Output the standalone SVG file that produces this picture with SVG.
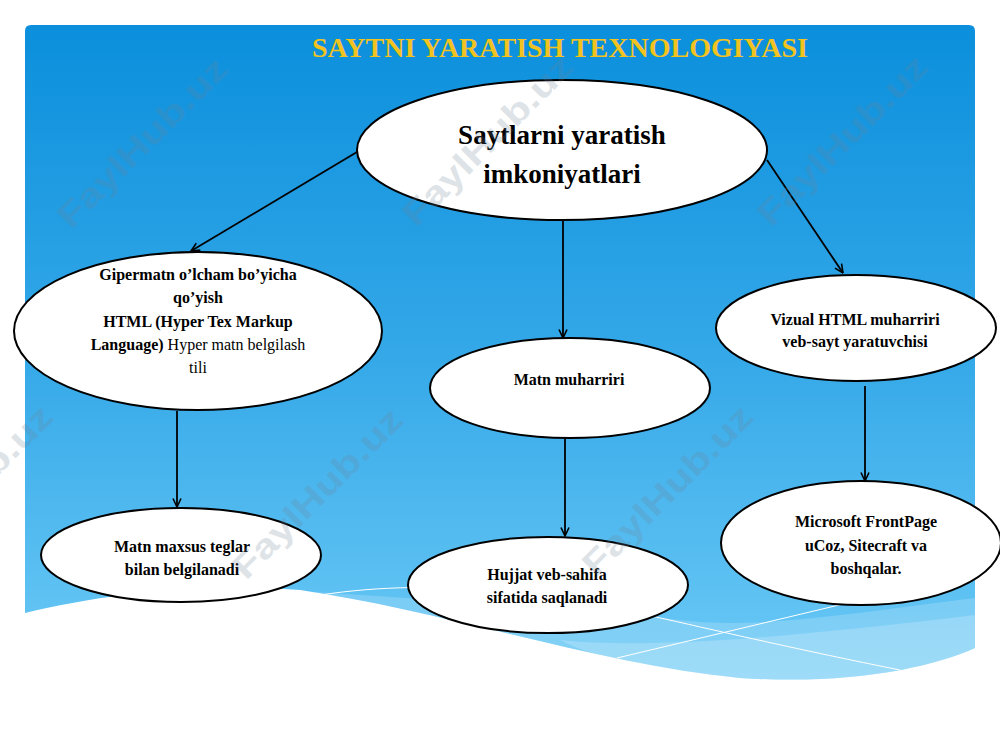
<svg xmlns="http://www.w3.org/2000/svg" width="1000" height="750" viewBox="0 0 1000 750">
<defs>
<linearGradient id="bg" x1="0" y1="25" x2="0" y2="680" gradientUnits="userSpaceOnUse">
<stop offset="0" stop-color="#0b8fdc"/>
<stop offset="0.5" stop-color="#34a8e8"/>
<stop offset="1" stop-color="#6ccaf6"/>
</linearGradient>
<marker id="arr" viewBox="0 0 10 10" refX="9.5" refY="5" markerWidth="10" markerHeight="10" markerUnits="userSpaceOnUse" orient="auto">
<path d="M1,1 L9.5,5 L1,9" fill="none" stroke="#000" stroke-width="1.6"/>
</marker>
</defs>
<style>
.node ellipse{fill:#fff;stroke:#000;stroke-width:2}
.t{font-family:"Liberation Serif","Times New Roman",serif;font-weight:bold;font-size:16px;fill:#000;text-anchor:middle}
.n{font-weight:normal}
.big{font-size:27px}
.title{font-family:"Liberation Serif","Times New Roman",serif;font-weight:bold;font-size:28px;fill:#f2c31f;text-anchor:middle}
.wm{font-family:"Liberation Sans",Arial,sans-serif;font-weight:bold;font-size:34px;fill:#6f8295;opacity:0.22;text-anchor:middle}
#connectors line{stroke:#000;stroke-width:1.8;fill:none}
</style>
<rect width="1000" height="750" fill="#fff"/>
<g id="background">
<path d="M25,31 Q25,25 31,25 L969,25 Q975,25 975,31 L975,648 C930,668 850,685 740,678 C600,665 450,612 300,590 C200,582 100,595 25,613 Z" fill="url(#bg)"/>
<path d="M285,590 C400,598 560,606 680,620 C760,630 860,612 975,598 L975,648 C930,668 850,685 740,678 C600,665 450,612 300,590 Z" fill="#fff" opacity="0.18"/>
<path d="M560,640 C650,650 800,636 975,615 L975,648 C930,668 850,685 740,678 C660,672 600,660 560,640 Z" fill="#fff" opacity="0.2"/>
<path d="M320,595 C380,586 440,585 520,592 C600,600 700,630 900,670" fill="none" stroke="#fff" stroke-width="1"/>
<path d="M617,658 L860,600" fill="none" stroke="#fff" stroke-width="1"/>
</g>
<text class="title" x="560" y="57">SAYTNI YARATISH TEXNOLOGIYASI</text>
<g id="connectors">
<line x1="357" y1="152" x2="191" y2="251" marker-end="url(#arr)"/>
<line x1="563" y1="221" x2="563" y2="338" marker-end="url(#arr)"/>
<line x1="767" y1="160" x2="843" y2="273" marker-end="url(#arr)"/>
<line x1="177" y1="411" x2="177" y2="507" marker-end="url(#arr)"/>
<line x1="565" y1="439" x2="565" y2="536" marker-end="url(#arr)"/>
<line x1="865" y1="386" x2="865" y2="481" marker-end="url(#arr)"/>
</g>
<g id="node-root" class="node">
<ellipse cx="562" cy="150" rx="205" ry="70"/>
<text class="t big" x="562" y="144">Saytlarni yaratish</text>
<text class="t big" x="562" y="183">imkoniyatlari</text>
</g>
<g id="node-html" class="node">
<ellipse cx="198" cy="331" rx="184" ry="79"/>
<text class="t" x="198" y="280">Gipermatn o’lcham bo’yicha</text>
<text class="t" x="198" y="303">qo’yish</text>
<text class="t" x="198" y="327">HTML (Hyper Tex Markup</text>
<text class="t" x="198" y="350">Language)<tspan class="n"> Hyper matn belgilash</tspan></text>
<text class="t n" x="198" y="373">tili</text>
</g>
<g id="node-editor" class="node">
<ellipse cx="570" cy="388" rx="140" ry="50"/>
<text class="t" x="569" y="385">Matn muharriri</text>
</g>
<g id="node-visual" class="node">
<ellipse cx="856" cy="328" rx="140" ry="53"/>
<text class="t" x="855" y="325">Vizual HTML muharriri</text>
<text class="t" x="855" y="347">veb-sayt yaratuvchisi</text>
</g>
<g id="node-tags" class="node">
<ellipse cx="181" cy="555" rx="140" ry="47"/>
<text class="t" x="182" y="552">Matn maxsus teglar</text>
<text class="t" x="182" y="575">bilan belgilanadi</text>
</g>
<g id="node-save" class="node">
<ellipse cx="548" cy="585" rx="140" ry="48"/>
<text class="t" x="547" y="580">Hujjat veb-sahifa</text>
<text class="t" x="547" y="603">sifatida saqlanadi</text>
</g>
<g id="node-tools" class="node">
<ellipse cx="861" cy="543" rx="140" ry="62"/>
<text class="t" x="866" y="527">Microsoft FrontPage</text>
<text class="t" x="866" y="551">uCoz, Sitecraft va</text>
<text class="t" x="866" y="574">boshqalar.</text>
</g>
<g id="watermarks">
<text class="wm" transform="translate(142,142) rotate(-45)" y="12" textLength="225" lengthAdjust="spacingAndGlyphs">FaylHub.uz</text>
<text class="wm" transform="translate(487,140) rotate(-45)" y="12" textLength="225" lengthAdjust="spacingAndGlyphs">FaylHub.uz</text>
<text class="wm" transform="translate(842,140) rotate(-45)" y="12" textLength="225" lengthAdjust="spacingAndGlyphs">FaylHub.uz</text>
<text class="wm" transform="translate(-33,490) rotate(-45)" y="12" textLength="225" lengthAdjust="spacingAndGlyphs">FaylHub.uz</text>
<text class="wm" transform="translate(317,493) rotate(-45)" y="12" textLength="225" lengthAdjust="spacingAndGlyphs">FaylHub.uz</text>
<text class="wm" transform="translate(667,490) rotate(-45)" y="12" textLength="225" lengthAdjust="spacingAndGlyphs">FaylHub.uz</text>
</g>
</svg>
